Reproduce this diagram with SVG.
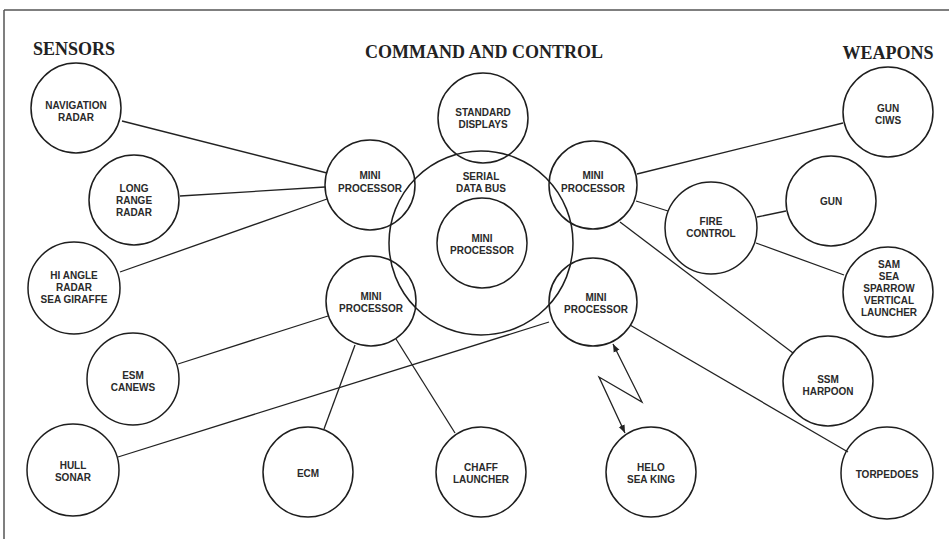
<svg xmlns="http://www.w3.org/2000/svg" width="949" height="539" viewBox="0 0 949 539">
<style>
.n{fill:none;stroke:#1e1e1e;stroke-width:1.5}
.c line,.c path{stroke:#222;stroke-width:1.3;fill:none}
.t{font-family:"Liberation Sans",Arial,sans-serif;font-size:10px;font-weight:bold;fill:#2a2a2a;text-anchor:middle}
.h{font-family:"Liberation Serif","Times New Roman",serif;font-size:18px;font-weight:bold;fill:#222;text-anchor:middle}
</style>
<defs>
<marker id="ah" viewBox="0 0 10 10" refX="10" refY="5" markerWidth="8" markerHeight="8" markerUnits="userSpaceOnUse" orient="auto-start-reverse">
<path d="M0,1 L10,5 L0,9 z" fill="#222"/>
</marker>
</defs>
<rect width="949" height="539" fill="#fff"/>
<g id="frame" stroke="#555" stroke-width="1.5" fill="none">
<line x1="4" y1="10" x2="949" y2="10"/>
<line x1="4" y1="10" x2="4" y2="539"/>
</g>
<g id="headings">
<text class="h" x="74" y="55">SENSORS</text>
<text class="h" x="484" y="58">COMMAND AND CONTROL</text>
<text class="h" x="888" y="59">WEAPONS</text>
</g>
<g class="c" id="connectors">
<line x1="122" y1="121" x2="327" y2="173"/>
<line x1="180" y1="196" x2="325" y2="187"/>
<line x1="120" y1="272" x2="327" y2="199"/>
<line x1="178" y1="364" x2="328" y2="316"/>
<line x1="118" y1="457" x2="549" y2="322"/>
<line x1="355" y1="345" x2="324" y2="429"/>
<line x1="396" y1="339" x2="455" y2="433"/>
<line x1="637" y1="174" x2="843" y2="123"/>
<line x1="636" y1="201" x2="668" y2="211"/>
<line x1="620" y1="222" x2="793" y2="353"/>
<line x1="757" y1="217" x2="786" y2="211"/>
<line x1="756" y1="243" x2="844" y2="275"/>
<line x1="630" y1="325" x2="848" y2="452"/>
<path d="M613,344 L642,402 L599,377 L625,433" marker-start="url(#ah)" marker-end="url(#ah)"/>
</g>
<g id="bus"><circle class="n" cx="481" cy="243" r="92"/><text class="t" x="481" y="180">SERIAL</text><text class="t" x="481" y="192">DATA BUS</text></g>
<g id="mini-center"><circle class="n" cx="482" cy="243" r="45"/><text class="t" x="482" y="242">MINI</text><text class="t" x="482" y="254">PROCESSOR</text></g>
<g id="displays"><circle class="n" cx="483" cy="118" r="45"/><text class="t" x="483" y="116">STANDARD</text><text class="t" x="483" y="128">DISPLAYS</text></g>
<g id="mini-tl"><circle class="n" cx="370" cy="185" r="45"/><text class="t" x="370" y="179">MINI</text><text class="t" x="370" y="192">PROCESSOR</text></g>
<g id="mini-tr"><circle class="n" cx="593" cy="185" r="44"/><text class="t" x="593" y="179">MINI</text><text class="t" x="593" y="192">PROCESSOR</text></g>
<g id="mini-bl"><circle class="n" cx="371" cy="301" r="45"/><text class="t" x="371" y="300">MINI</text><text class="t" x="371" y="312">PROCESSOR</text></g>
<g id="mini-br"><circle class="n" cx="593" cy="302" r="44"/><text class="t" x="596" y="301">MINI</text><text class="t" x="596" y="313">PROCESSOR</text></g>
<g id="nav"><circle class="n" cx="76" cy="108" r="45"/><text class="t" x="76" y="109">NAVIGATION</text><text class="t" x="76" y="121">RADAR</text></g>
<g id="lrr"><circle class="n" cx="134" cy="200" r="45"/><text class="t" x="134" y="192">LONG</text><text class="t" x="134" y="204">RANGE</text><text class="t" x="134" y="216">RADAR</text></g>
<g id="hiangle"><circle class="n" cx="74" cy="288" r="46"/><text class="t" x="74" y="279">HI ANGLE</text><text class="t" x="74" y="291">RADAR</text><text class="t" x="74" y="303">SEA GIRAFFE</text></g>
<g id="esm"><circle class="n" cx="133" cy="379" r="46"/><text class="t" x="133" y="379">ESM</text><text class="t" x="133" y="391">CANEWS</text></g>
<g id="hull"><circle class="n" cx="73" cy="470" r="46"/><text class="t" x="73" y="469">HULL</text><text class="t" x="73" y="481">SONAR</text></g>
<g id="ecm"><circle class="n" cx="308" cy="472" r="45"/><text class="t" x="308" y="477">ECM</text></g>
<g id="chaff"><circle class="n" cx="481" cy="472" r="45"/><text class="t" x="481" y="471">CHAFF</text><text class="t" x="481" y="483">LAUNCHER</text></g>
<g id="helo"><circle class="n" cx="651" cy="472" r="45"/><text class="t" x="651" y="471">HELO</text><text class="t" x="651" y="483">SEA KING</text></g>
<g id="torpedoes"><circle class="n" cx="887" cy="473" r="46"/><text class="t" x="887" y="478">TORPEDOES</text></g>
<g id="ssm"><circle class="n" cx="828" cy="381" r="45"/><text class="t" x="828" y="383">SSM</text><text class="t" x="828" y="395">HARPOON</text></g>
<g id="sam"><circle class="n" cx="888" cy="292" r="45"/><text class="t" x="889" y="268">SAM</text><text class="t" x="889" y="280">SEA</text><text class="t" x="889" y="292">SPARROW</text><text class="t" x="889" y="304">VERTICAL</text><text class="t" x="889" y="316">LAUNCHER</text></g>
<g id="firecontrol"><circle class="n" cx="711" cy="228" r="46"/><text class="t" x="711" y="225">FIRE</text><text class="t" x="711" y="237">CONTROL</text></g>
<g id="gun"><circle class="n" cx="831" cy="201" r="45"/><text class="t" x="831" y="205">GUN</text></g>
<g id="ciws"><circle class="n" cx="888" cy="112" r="45"/><text class="t" x="888" y="112">GUN</text><text class="t" x="888" y="124">CIWS</text></g>
</svg>
